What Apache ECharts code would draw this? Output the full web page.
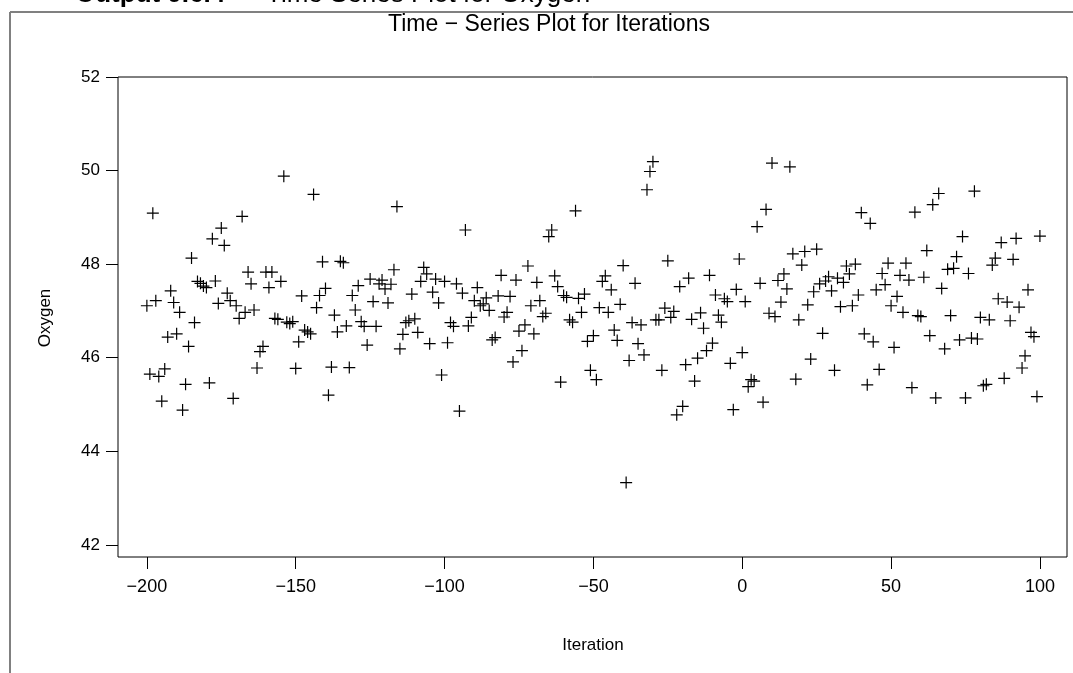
<!DOCTYPE html>
<html>
<head>
<meta charset="utf-8">
<script src="https://cdn.jsdelivr.net/npm/echarts@6/dist/echarts.min.js"></script>
<style>
html,body{margin:0;padding:0;background:#fff;}
#chart{width:1073px;height:673px;}
</style>
</head>
<body>
<div id="chart"></div>
<script>
// ---- data ----
var firstIteration = -200;
var oxygen = [
  47.11, 45.65, 49.09, 47.22, 45.60, 45.07, 45.76, 46.44, 47.43, 47.18,
  46.51, 46.97, 44.88, 45.43, 46.24, 48.13, 46.75, 47.63, 47.59, 47.53,
  47.50, 45.46, 48.54, 47.64, 47.16, 48.77, 48.40, 47.38, 47.22, 45.13,
  47.11, 46.84, 49.02, 46.97, 47.83, 47.58, 47.02, 45.78, 46.13, 46.24,
  47.83, 47.50, 47.83, 46.84, 46.82, 47.63, 49.88, 46.76, 46.73, 46.77,
  45.77, 46.34, 47.32, 46.59, 46.55, 46.51, 49.49, 47.07, 47.33, 48.05,
  47.48, 45.20, 45.80, 46.91, 46.55, 48.06, 48.03, 46.68, 45.79, 47.33,
  47.02, 47.54, 46.77, 46.67, 46.27, 47.68, 47.20, 46.67, 47.58, 47.66,
  47.47, 47.17, 47.57, 47.88, 49.23, 46.19, 46.50, 46.75, 46.79, 47.36,
  46.83, 46.54, 47.63, 47.93, 47.79, 46.30, 47.40, 47.68, 47.17, 45.63,
  47.63, 46.32, 46.75, 46.67, 47.58, 44.86, 47.38, 48.73, 46.68, 46.86,
  47.22, 47.50, 47.11, 47.15, 47.28, 47.01, 46.38, 46.43, 47.32, 47.76,
  46.87, 46.97, 47.31, 45.91, 47.66, 46.57, 46.15, 46.70, 47.96, 47.11,
  46.51, 47.61, 47.22, 46.88, 46.95, 48.59, 48.73, 47.75, 47.52, 45.48,
  47.33, 47.29, 46.81, 46.76, 49.14, 47.27, 46.97, 47.36, 46.35, 45.73,
  46.47, 45.53, 47.07, 47.63, 47.75, 46.97, 47.45, 46.59, 46.37, 47.14,
  47.97, 43.33, 45.94, 46.75, 47.59, 46.30, 46.70, 46.06, 49.59, 49.98,
  50.19, 46.81, 46.81, 45.73, 47.06, 48.07, 46.86, 46.99, 44.78, 47.52,
  44.96, 45.85, 47.70, 46.82, 45.50, 45.99, 46.96, 46.63, 46.15, 47.76,
  46.31, 47.34, 46.91, 46.76, 47.26, 47.20, 45.88, 44.89, 47.46, 48.11,
  46.11, 47.20, 45.38, 45.53, 45.50, 48.80, 47.59, 45.05, 49.17, 46.95,
  50.16, 46.88, 47.65, 47.19, 47.79, 47.47, 50.08, 48.22, 45.54, 46.81,
  47.98, 48.27, 47.13, 45.97, 47.41, 48.32, 47.58, 46.52, 47.64, 47.73,
  47.43, 45.73, 47.70, 47.09, 47.61, 47.96, 47.79, 47.11, 48.00, 47.34,
  49.10, 46.51, 45.42, 48.87, 46.34, 47.45, 45.75, 47.80, 47.56, 48.02,
  47.11, 46.22, 47.31, 47.76, 46.97, 48.02, 47.66, 45.36, 49.11, 46.90,
  46.88, 47.72, 48.29, 46.47, 49.27, 45.14, 49.51, 47.48, 46.19, 47.89,
  46.90, 47.91, 48.16, 46.38, 48.59, 45.14, 47.80, 46.42, 49.56, 46.40,
  46.86, 45.40, 45.43, 46.81, 47.98, 48.13, 47.26, 48.46, 45.56, 47.19,
  46.79, 48.10, 48.55, 47.08, 45.78, 46.04, 47.45, 46.54, 46.45, 45.17,
  48.60
];
var xTicks = [-200, -150, -100, -50, 0, 50, 100];
var yTicks = [42, 44, 46, 48, 50, 52];
var chartTitle = 'Time \u2212 Series Plot for Iterations';
var headerBold = 'Output 9.6.4';
var headerText = 'Time Series Plot for Oxygen';
var xName = 'Iteration';
var yName = 'Oxygen';

// ---- build ----
var points = [];
for (var k = 0; k < oxygen.length; k++) {
  points.push([firstIteration + k, oxygen[k]]);
}
function fmt(v) { return v < 0 ? '\u2212' + Math.abs(v) : String(v); }

var FONT = 'Liberation Sans, Arial, Helvetica, sans-serif';
var chart = echarts.init(document.getElementById('chart'), null, {renderer: 'canvas'});
chart.setOption({
  animation: false,
  backgroundColor: '#fff',
  grid: {
    left: 118, top: 77, right: 6, bottom: 116,
    show: true, borderColor: '#000', borderWidth: 1, backgroundColor: 'transparent',
    outerBoundsMode: 'none'
  },
  xAxis: {
    type: 'value', min: -209.7, max: 109.1,
    axisLine: {show: false, onZero: false},
    splitLine: {show: false},
    axisTick: {show: true, inside: false, length: 12, customValues: xTicks,
               lineStyle: {color: '#000', width: 1}},
    axisLabel: {customValues: xTicks, formatter: fmt, margin: 21,
                color: '#000', fontSize: 18, fontFamily: FONT}
  },
  yAxis: {
    type: 'value', min: 41.74, max: 52,
    axisLine: {show: false, onZero: false},
    splitLine: {show: false},
    axisTick: {show: true, inside: false, length: 12, customValues: yTicks,
               lineStyle: {color: '#000', width: 1}},
    axisLabel: {customValues: yTicks, margin: 18,
                color: '#000', fontSize: 17, fontFamily: FONT}
  },
  series: [{
    type: 'scatter',
    data: points,
    symbol: 'path://M0,5.4H12V6.6H0Z M5.4,0H6.6V12H5.4Z',
    symbolSize: 12,
    itemStyle: {color: '#000', opacity: 1},
    silent: true
  }],
  graphic: [
    {type: 'line', shape: {x1: 10, y1: 12, x2: 1073, y2: 12},
     style: {stroke: '#808080', lineWidth: 2}, silent: true},
    {type: 'line', shape: {x1: 10, y1: 12, x2: 10, y2: 673},
     style: {stroke: '#808080', lineWidth: 2}, silent: true},
    {type: 'text', left: 75, top: -18,
     style: {text: headerBold, font: 'bold 26px ' + FONT, fill: '#000'}},
    {type: 'text', left: 266, top: -18,
     style: {text: headerText, font: '26px ' + FONT, fill: '#000'}},
    {type: 'text', x: 549, y: 25,
     style: {text: chartTitle, font: '23px ' + FONT, fill: '#000', align: 'center', verticalAlign: 'middle'}},
    {type: 'text', x: 593, y: 645,
     style: {text: xName, font: '17px ' + FONT, fill: '#000', align: 'center', verticalAlign: 'middle'}},
    {type: 'text', x: 45, y: 318, rotation: Math.PI / 2,
     style: {text: yName, font: '17px ' + FONT, fill: '#000', align: 'center', verticalAlign: 'middle'}}
  ]
});
</script>
</body>
</html>
